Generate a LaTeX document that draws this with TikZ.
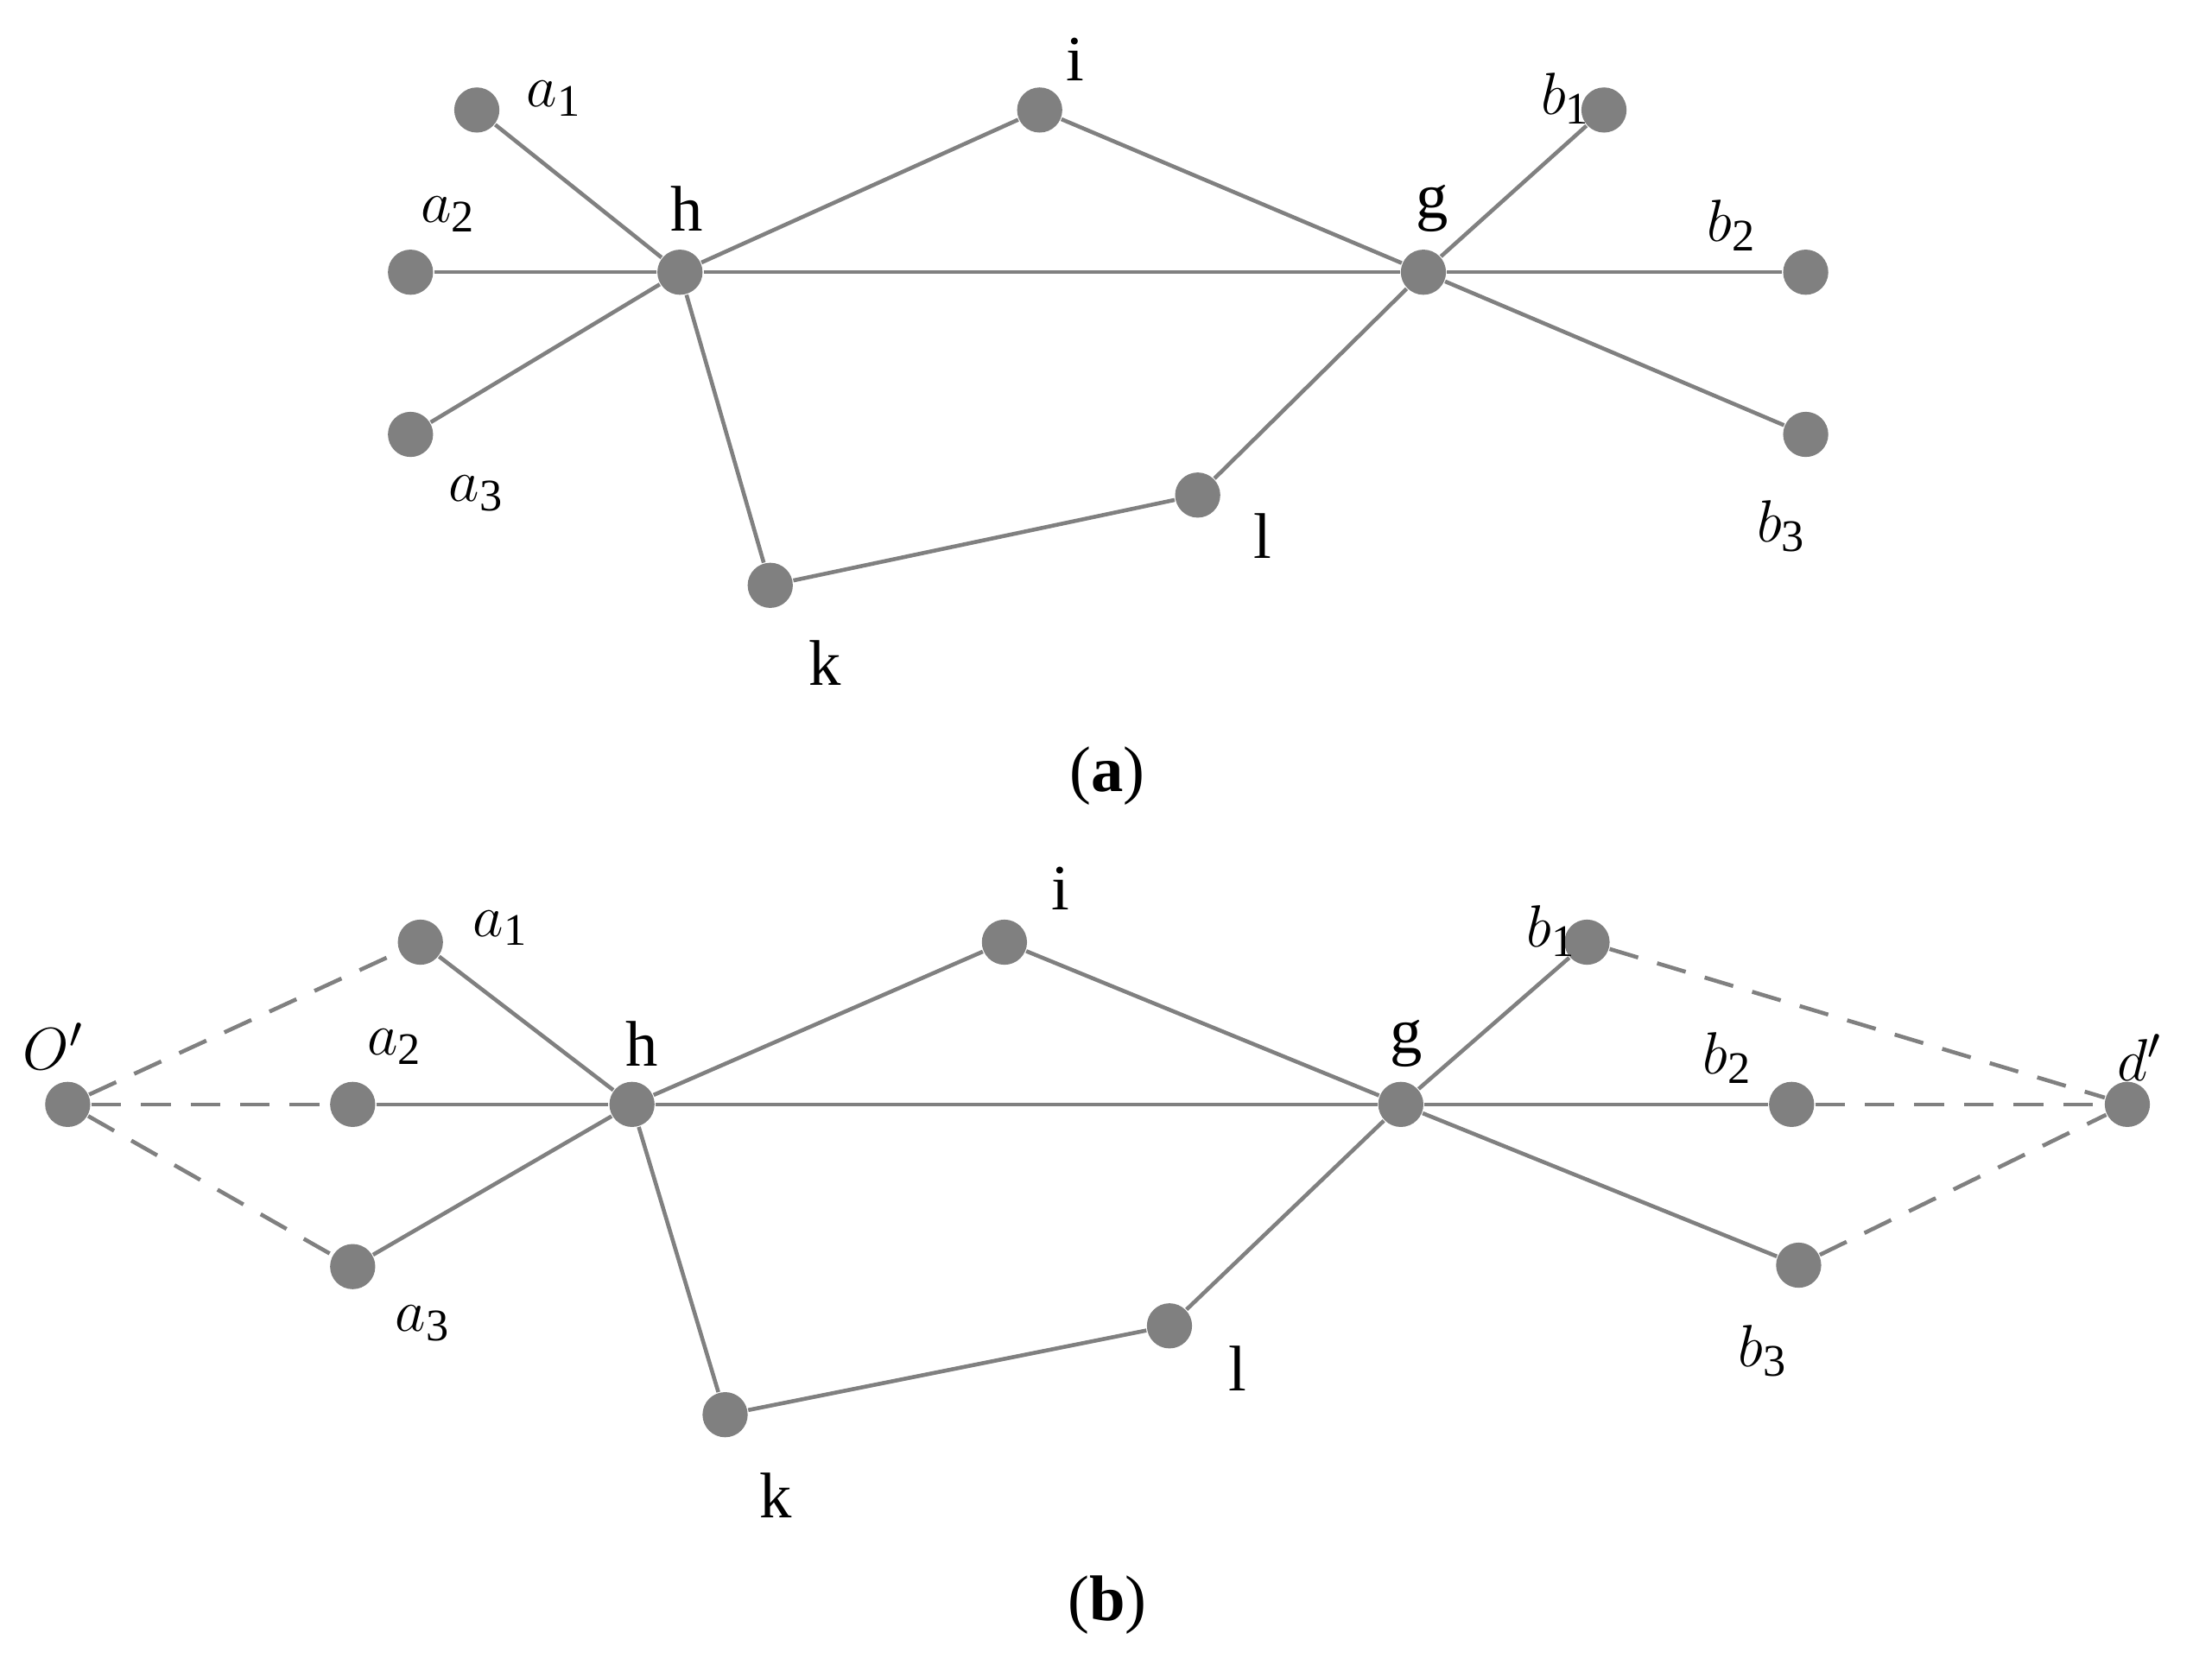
\documentclass[tikz,border=0pt]{standalone}
\usepackage{fontspec}
\setmainfont{Liberation Serif}
\begin{document}
\begin{tikzpicture}[x=0.01cm,y=-0.01cm,
  v/.style={circle,fill=black!50,inner sep=0pt,minimum size=0.32cm},
  e/.style={draw=black!50,line width=0.8pt},
  d/.style={draw=black!50,line width=0.8pt,dash pattern=on 6pt off 4pt},
  lab/.style={font=\fontsize{13}{15}\selectfont,inner sep=0pt},
  every node/.append style={}]
\useasboundingbox (0,0) rectangle (1568,1180);
% (a)
\foreach \n/\x/\y in {a1/338/78,a2/291/193,a3/291/308,h/482/193,i/737/78,g/1009/193,b1/1137/78,b2/1280/193,b3/1280/308,l/849/351,k/546/415}
  \node[v] (A\n) at (\x,\y) {};
\foreach \s/\t in {a1/h,a2/h,a3/h,h/i,h/g,h/k,i/g,k/l,l/g,g/b1,g/b2,g/b3}
  \draw[e] (A\s) -- (A\t);
\node[lab] (La1) at (393,70) {$a_{\mathrm{1}}$};
\node[lab] (La2) at (318,152) {$a_{\mathrm{2}}$};
\node[lab] (La3) at (338,350) {$a_{\mathrm{3}}$};
\node[lab] (Lh) at (487,148) {h};
\node[lab] (Li) at (762,42) {i};
\node[lab] (Lg) at (1015,148) {g};
\node[lab] (Lb1) at (1110,70) {$b_{\mathrm{1}}$};
\node[lab] (Lb2) at (1228,160) {$b_{\mathrm{2}}$};
\node[lab] (Lb3) at (1263,373) {$b_{\mathrm{3}}$};
\node[lab] (Ll) at (895,380) {l};
\node[lab] (Lk) at (585,470) {k};
\node[lab] (ca) at (785,550) {(\textbf{a})};
% (b)
\foreach \n/\x/\y in {O/48/783,a1/298/668,a2/250/783,a3/250/898,h/448/783,i/712/668,g/993/783,b1/1125/668,b2/1270/783,b3/1275/897,l/829/940,k/514/1003,d/1508/783}
  \node[v] (B\n) at (\x,\y) {};
\foreach \s/\t in {a1/h,a2/h,a3/h,h/i,h/g,h/k,i/g,k/l,l/g,g/b1,g/b2,g/b3}
  \draw[e] (B\s) -- (B\t);
\foreach \s/\t in {O/a1,O/a2,O/a3,b1/d,b2/d,b3/d}
  \draw[d] (B\s) -- (B\t);
\node[lab] (MO) at (38,742) {$O'$};
\node[lab] (Ma1) at (355,658) {$a_{\mathrm{1}}$};
\node[lab] (Ma2) at (280,742) {$a_{\mathrm{2}}$};
\node[lab] (Ma3) at (300,938) {$a_{\mathrm{3}}$};
\node[lab] (Mh) at (455,740) {h};
\node[lab] (Mi) at (752,630) {i};
\node[lab] (Mg) at (997,740) {g};
\node[lab] (Mb1) at (1100,660) {$b_{\mathrm{1}}$};
\node[lab] (Mb2) at (1225,750) {$b_{\mathrm{2}}$};
\node[lab] (Mb3) at (1250,958) {$b_{\mathrm{3}}$};
\node[lab] (Ml) at (877,970) {l};
\node[lab] (Mk) at (550,1060) {k};
\node[lab] (Md) at (1517,750) {$d'$};
\node[lab] (cb) at (785,1138) {(\textbf{b})};
\end{tikzpicture}
\end{document}
